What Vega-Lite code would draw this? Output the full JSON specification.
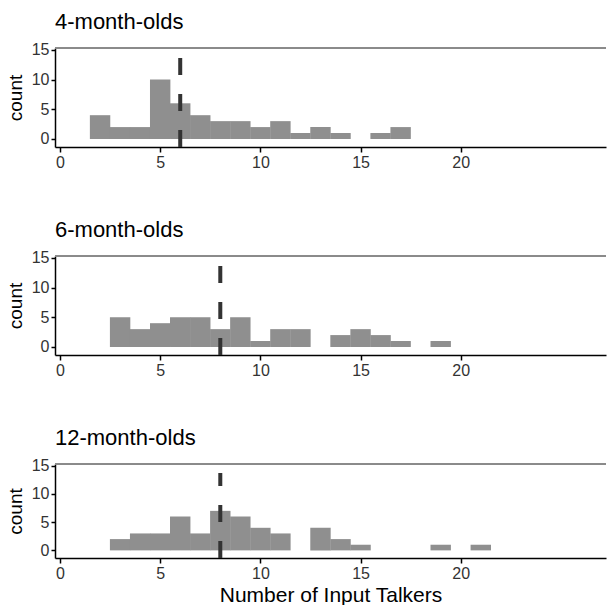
{
  "$schema": "https://vega.github.io/schema/vega-lite/v6.json",
  "background": "white",
  "padding": {"left": 6, "top": 10, "right": 0, "bottom": 0},
  "config": {
    "font": "Liberation Sans",
    "view": {"stroke": null},
    "axis": {"domainColor": "black", "domainWidth": 1.5, "tickColor": "black", "tickWidth": 1.5, "tickSize": 4, "labelFontSize": 16, "labelColor": "#333333", "labelPadding": 2, "labelOverlap": false, "titleFontSize": 19, "titleFontWeight": "normal", "titleColor": "black", "grid": false},
    "title": {"fontSize": 22, "fontWeight": "normal", "anchor": "start", "color": "black", "offset": 8, "frame": "group"},
    "concat": {"spacing": 48}
  },
  "data": {"values": [
    {"age": "4-month-olds", "talkers": 2, "count": 4},
    {"age": "4-month-olds", "talkers": 3, "count": 2},
    {"age": "4-month-olds", "talkers": 4, "count": 2},
    {"age": "4-month-olds", "talkers": 5, "count": 10},
    {"age": "4-month-olds", "talkers": 6, "count": 6},
    {"age": "4-month-olds", "talkers": 7, "count": 4},
    {"age": "4-month-olds", "talkers": 8, "count": 3},
    {"age": "4-month-olds", "talkers": 9, "count": 3},
    {"age": "4-month-olds", "talkers": 10, "count": 2},
    {"age": "4-month-olds", "talkers": 11, "count": 3},
    {"age": "4-month-olds", "talkers": 12, "count": 1},
    {"age": "4-month-olds", "talkers": 13, "count": 2},
    {"age": "4-month-olds", "talkers": 14, "count": 1},
    {"age": "4-month-olds", "talkers": 16, "count": 1},
    {"age": "4-month-olds", "talkers": 17, "count": 2},
    {"age": "6-month-olds", "talkers": 3, "count": 5},
    {"age": "6-month-olds", "talkers": 4, "count": 3},
    {"age": "6-month-olds", "talkers": 5, "count": 4},
    {"age": "6-month-olds", "talkers": 6, "count": 5},
    {"age": "6-month-olds", "talkers": 7, "count": 5},
    {"age": "6-month-olds", "talkers": 8, "count": 3},
    {"age": "6-month-olds", "talkers": 9, "count": 5},
    {"age": "6-month-olds", "talkers": 10, "count": 1},
    {"age": "6-month-olds", "talkers": 11, "count": 3},
    {"age": "6-month-olds", "talkers": 12, "count": 3},
    {"age": "6-month-olds", "talkers": 14, "count": 2},
    {"age": "6-month-olds", "talkers": 15, "count": 3},
    {"age": "6-month-olds", "talkers": 16, "count": 2},
    {"age": "6-month-olds", "talkers": 17, "count": 1},
    {"age": "6-month-olds", "talkers": 19, "count": 1},
    {"age": "12-month-olds", "talkers": 3, "count": 2},
    {"age": "12-month-olds", "talkers": 4, "count": 3},
    {"age": "12-month-olds", "talkers": 5, "count": 3},
    {"age": "12-month-olds", "talkers": 6, "count": 6},
    {"age": "12-month-olds", "talkers": 7, "count": 3},
    {"age": "12-month-olds", "talkers": 8, "count": 7},
    {"age": "12-month-olds", "talkers": 9, "count": 6},
    {"age": "12-month-olds", "talkers": 10, "count": 4},
    {"age": "12-month-olds", "talkers": 11, "count": 3},
    {"age": "12-month-olds", "talkers": 13, "count": 4},
    {"age": "12-month-olds", "talkers": 14, "count": 2},
    {"age": "12-month-olds", "talkers": 15, "count": 1},
    {"age": "12-month-olds", "talkers": 19, "count": 1},
    {"age": "12-month-olds", "talkers": 21, "count": 1}
  ]},
  "vconcat": [
    {
      "title": {"text": "4-month-olds"},
      "width": 551, "height": 99,
      "resolve": {"axis": {"x": "independent", "y": "independent"}},
      "layer": [
        {
          "transform": [{"filter": "datum.age === '4-month-olds'"}],
          "mark": {"type": "bar", "orient": "vertical", "width": 20.4, "color": "#8f8f8f"},
          "encoding": {
            "x": {"field": "talkers", "type": "quantitative", "scale": {"domain": [0, 27], "nice": false, "zero": false}, "axis": {"values": [0, 5, 10, 15, 20], "title": null, "tickSize": 5, "labelFontSize": 16, "labelColor": "#333333"}},
            "y": {"field": "count", "type": "quantitative", "scale": {"domain": [-1.35, 15.3], "nice": false, "zero": false}, "axis": {"values": [0, 5, 10, 15], "title": "count", "titlePadding": 6, "labelFontSize": 16, "labelColor": "#333333", "titleFontSize": 19}}
          }
        },
        {"mark": {"type": "rule", "color": "#8a8a8a", "strokeWidth": 1}, "encoding": {"y": {"datum": 15.3, "type": "quantitative", "axis": null}}},
        {
          "data": {"values": [{"median": 6}]},
          "mark": {"type": "rule", "color": "#333333", "strokeWidth": 4, "strokeDash": [17, 19]},
          "encoding": {
            "x": {"field": "median", "type": "quantitative", "axis": null},
            "y": {"datum": -1.35, "type": "quantitative", "axis": null},
            "y2": {"datum": 13.7}
          }
        }
      ]
    },
    {
      "title": {"text": "6-month-olds"},
      "width": 551, "height": 99,
      "resolve": {"axis": {"x": "independent", "y": "independent"}},
      "layer": [
        {
          "transform": [{"filter": "datum.age === '6-month-olds'"}],
          "mark": {"type": "bar", "orient": "vertical", "width": 20.4, "color": "#8f8f8f"},
          "encoding": {
            "x": {"field": "talkers", "type": "quantitative", "scale": {"domain": [0, 27], "nice": false, "zero": false}, "axis": {"values": [0, 5, 10, 15, 20], "title": null, "tickSize": 5, "labelFontSize": 16, "labelColor": "#333333"}},
            "y": {"field": "count", "type": "quantitative", "scale": {"domain": [-1.35, 15.3], "nice": false, "zero": false}, "axis": {"values": [0, 5, 10, 15], "title": "count", "titlePadding": 6, "labelFontSize": 16, "labelColor": "#333333", "titleFontSize": 19}}
          }
        },
        {"mark": {"type": "rule", "color": "#8a8a8a", "strokeWidth": 1}, "encoding": {"y": {"datum": 15.3, "type": "quantitative", "axis": null}}},
        {
          "data": {"values": [{"median": 8}]},
          "mark": {"type": "rule", "color": "#333333", "strokeWidth": 4, "strokeDash": [17, 19]},
          "encoding": {
            "x": {"field": "median", "type": "quantitative", "axis": null},
            "y": {"datum": -1.35, "type": "quantitative", "axis": null},
            "y2": {"datum": 13.7}
          }
        }
      ]
    },
    {
      "title": {"text": "12-month-olds"},
      "width": 551, "height": 94,
      "resolve": {"axis": {"x": "independent", "y": "independent"}},
      "layer": [
        {
          "transform": [{"filter": "datum.age === '12-month-olds'"}],
          "mark": {"type": "bar", "orient": "vertical", "width": 20.4, "color": "#8f8f8f"},
          "encoding": {
            "x": {"field": "talkers", "type": "quantitative", "scale": {"domain": [0, 27], "nice": false, "zero": false}, "axis": {"values": [0, 5, 10, 15, 20], "title": "Number of Input Talkers", "tickSize": 5, "titlePadding": 3, "labelFontSize": 16, "labelColor": "#333333", "titleFontSize": 21}},
            "y": {"field": "count", "type": "quantitative", "scale": {"domain": [-1.35, 15.3], "nice": false, "zero": false}, "axis": {"values": [0, 5, 10, 15], "title": "count", "titlePadding": 6, "labelFontSize": 16, "labelColor": "#333333", "titleFontSize": 19}}
          }
        },
        {"mark": {"type": "rule", "color": "#8a8a8a", "strokeWidth": 1}, "encoding": {"y": {"datum": 15.3, "type": "quantitative", "axis": null}}},
        {
          "data": {"values": [{"median": 8}]},
          "mark": {"type": "rule", "color": "#333333", "strokeWidth": 4, "strokeDash": [17, 19]},
          "encoding": {
            "x": {"field": "median", "type": "quantitative", "axis": null},
            "y": {"datum": -1.35, "type": "quantitative", "axis": null},
            "y2": {"datum": 13.7}
          }
        }
      ]
    }
  ]
}
